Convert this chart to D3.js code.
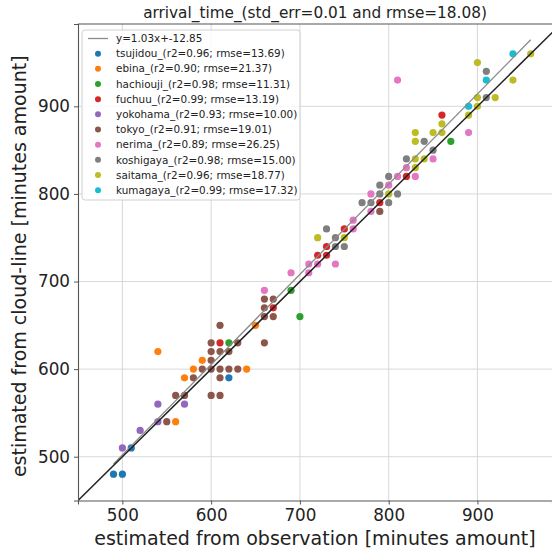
<!DOCTYPE html>
<html>
<head>
<meta charset="utf-8">
<script src="https://cdn.jsdelivr.net/npm/d3@7"></script>
<style>
  body { margin: 0; background: #fff; }
  svg { display: block; font-family: "DejaVu Sans", sans-serif; }
</style>
</head>
<body>
<svg id="chart" width="552" height="552"></svg>
<script>
// Arrival time: observation-based estimate (x) vs cloud-line estimate (y), minutes
const stations = ["tsujidou", "ebina", "hachiouji", "fuchuu", "yokohama", "tokyo", "nerima", "koshigaya", "saitama", "kumagaya"];
const stationColors = ["#1f77b4", "#ff7f0e", "#2ca02c", "#d62728", "#9467bd", "#8c564b", "#e377c2", "#7f7f7f", "#bcbd22", "#17becf"];
const stationR2 = ["0.96", "0.90", "0.98", "0.99", "0.93", "0.91", "0.89", "0.98", "0.96", "0.99"];
const stationRmse = ["13.69", "21.37", "11.31", "13.19", "10.00", "19.01", "26.25", "15.00", "18.77", "17.32"];

const tsujidou = [[490, 480], [500, 480], [510, 510], [620, 590]];
const ebina = [[540, 620], [590, 610], [580, 600], [640, 600], [570, 590], [560, 540], [650, 650]];
const hachiouji = [[620, 630], [690, 690], [700, 660], [870, 860]];
const fuchuu = [[610, 630], [670, 670], [750, 760], [730, 740], [720, 730], [730, 730], [790, 790], [860, 890], [820, 820]];
const yokohama = [[540, 560], [570, 560], [540, 540], [520, 530], [500, 510]];
const tokyo = [[660, 680], [670, 680], [660, 670], [660, 660], [670, 660], [610, 650], [660, 630], [600, 630], [630, 630],
  [600, 620], [610, 620], [620, 620], [600, 610], [590, 600], [600, 600], [610, 600], [620, 600], [630, 600],
  [580, 590], [610, 590], [560, 570], [570, 570], [600, 570], [610, 570], [550, 540], [790, 780]];
const nerima = [[660, 690], [780, 800], [800, 810], [780, 780], [760, 770], [760, 760], [710, 720], [720, 720], [740, 720],
  [710, 710], [690, 710], [810, 930], [890, 870], [850, 840], [820, 830], [810, 820], [830, 820]];
const koshigaya = [[790, 810], [790, 800], [810, 800], [770, 790], [780, 790], [800, 790], [730, 760], [740, 750], [740, 740],
  [750, 740], [910, 940], [910, 910], [840, 860], [850, 850], [820, 840], [800, 820]];
const saitama = [[800, 800], [720, 750], [750, 750], [960, 960], [900, 950], [940, 930], [900, 910], [920, 910], [900, 900],
  [890, 890], [860, 880], [830, 870], [850, 870], [860, 870], [830, 860], [830, 840], [840, 840], [830, 830]];
const kumagaya = [[940, 960], [910, 930], [890, 900]];

const stationPoints = [tsujidou, ebina, hachiouji, fuchuu, yokohama, tokyo, nerima, koshigaya, saitama, kumagaya];

// overall linear fit
const fitSlope = 1.03;
const fitIntercept = -12.85;
const titleText = "arrival_time_(std_err=0.01 and rmse=18.08)";
const xTicks = [500, 600, 700, 800, 900];
const yTicks = [500, 600, 700, 800, 900];
const xDomain = [450, 984];
const yDomain = [450, 994];

const svg = d3.select("#chart");
const plotLeft = 78, plotRight = 552, plotTop = 24, plotBottom = 500.5;

const x = d3.scaleLinear().domain(xDomain).range([plotLeft, plotRight]);
const y = d3.scaleLinear().domain(yDomain).range([plotBottom, plotTop]);

svg.append("defs").append("clipPath").attr("id", "plot-clip")
  .append("rect").attr("x", plotLeft).attr("y", plotTop)
  .attr("width", plotRight - plotLeft).attr("height", plotBottom - plotTop);

// grid
const grid = svg.append("g").attr("stroke", "#d4d4d4").attr("stroke-width", 0.9);
grid.selectAll("line.gx").data(xTicks).join("line").attr("class", "gx")
  .attr("x1", d => x(d)).attr("x2", d => x(d)).attr("y1", plotTop).attr("y2", plotBottom);
grid.selectAll("line.gy").data(yTicks).join("line").attr("class", "gy")
  .attr("x1", plotLeft).attr("x2", plotRight).attr("y1", d => y(d)).attr("y2", d => y(d));

// scatter points
const plot = svg.append("g").attr("clip-path", "url(#plot-clip)");
stationPoints.forEach((pts, i) => {
  plot.append("g").selectAll("circle").data(pts).join("circle")
    .attr("cx", d => x(d[0])).attr("cy", d => y(d[1])).attr("r", 3.6)
    .attr("fill", stationColors[i]);
});

// fit line across the observed range
const allX = stationPoints.flat().map(d => d[0]);
const [fx0, fx1] = d3.extent(allX);
plot.append("line")
  .attr("x1", x(fx0)).attr("y1", y(fitSlope * fx0 + fitIntercept))
  .attr("x2", x(fx1)).attr("y2", y(fitSlope * fx1 + fitIntercept))
  .attr("stroke", "#8a8a8a").attr("stroke-width", 1.3);

// identity line
plot.append("line")
  .attr("x1", x(450)).attr("y1", y(450))
  .attr("x2", x(1000)).attr("y2", y(1000))
  .attr("stroke", "#222").attr("stroke-width", 1.5);

// axes
const xAxis = svg.append("g").attr("transform", `translate(0,${plotBottom})`)
  .call(d3.axisBottom(x).tickValues(xTicks).tickSize(4).tickPadding(5));
const yAxis = svg.append("g").attr("transform", `translate(${plotLeft},0)`)
  .call(d3.axisLeft(y).tickValues(yTicks).tickSize(4).tickPadding(4));
[xAxis, yAxis].forEach(g => {
  g.select(".domain").attr("stroke", "#555").attr("stroke-width", 1.1);
  g.selectAll(".tick line").attr("stroke", "#555").attr("stroke-width", 1);
  g.selectAll(".tick text").attr("fill", "#222").style("font-size", "16.8px").style("font-family", "DejaVu Sans, sans-serif");
});
// top spine
svg.append("line").attr("x1", plotLeft).attr("x2", plotRight).attr("y1", plotTop).attr("y2", plotTop)
  .attr("stroke", "#555").attr("stroke-width", 1.1);

// title and axis labels
svg.append("text").attr("x", (plotLeft + plotRight) / 2).attr("y", 18)
  .attr("text-anchor", "middle").attr("fill", "#222").style("font-size", "15.3px")
  .text(titleText);
svg.append("text").attr("x", (plotLeft + plotRight) / 2).attr("y", 545)
  .attr("text-anchor", "middle").attr("fill", "#222").style("font-size", "19px")
  .text("estimated from observation [minutes amount]");
svg.append("text").attr("transform", `translate(26,${(plotTop + plotBottom) / 2 + 4}) rotate(-90)`)
  .attr("text-anchor", "middle").attr("fill", "#222").style("font-size", "19px")
  .text("estimated from cloud-line [minutes amount]");

// legend
const legend = svg.append("g");
legend.append("rect").attr("x", 82).attr("y", 30).attr("width", 218).attr("height", 170)
  .attr("rx", 3).attr("fill", "#fff").attr("fill-opacity", 0.85)
  .attr("stroke", "#d0d0d0").attr("stroke-width", 1);
const rowY = i => 38.5 + i * 15.17;
legend.append("line").attr("x1", 88).attr("x2", 108).attr("y1", rowY(0)).attr("y2", rowY(0))
  .attr("stroke", "#8a8a8a").attr("stroke-width", 1.3);
legend.append("text").attr("x", 116).attr("y", rowY(0)).attr("dy", "0.35em")
  .attr("fill", "#222").style("font-size", "10.4px")
  .text(`y=${fitSlope.toFixed(2)}x+${fitIntercept.toFixed(2)}`);
stations.forEach((name, i) => {
  const yy = rowY(i + 1);
  legend.append("circle").attr("cx", 98).attr("cy", yy).attr("r", 3).attr("fill", stationColors[i]);
  legend.append("text").attr("x", 116).attr("y", yy).attr("dy", "0.35em")
    .attr("fill", "#222").style("font-size", "10.4px")
    .text(`${name}_(r2=${stationR2[i]}; rmse=${stationRmse[i]})`);
});
</script>
</body>
</html>
